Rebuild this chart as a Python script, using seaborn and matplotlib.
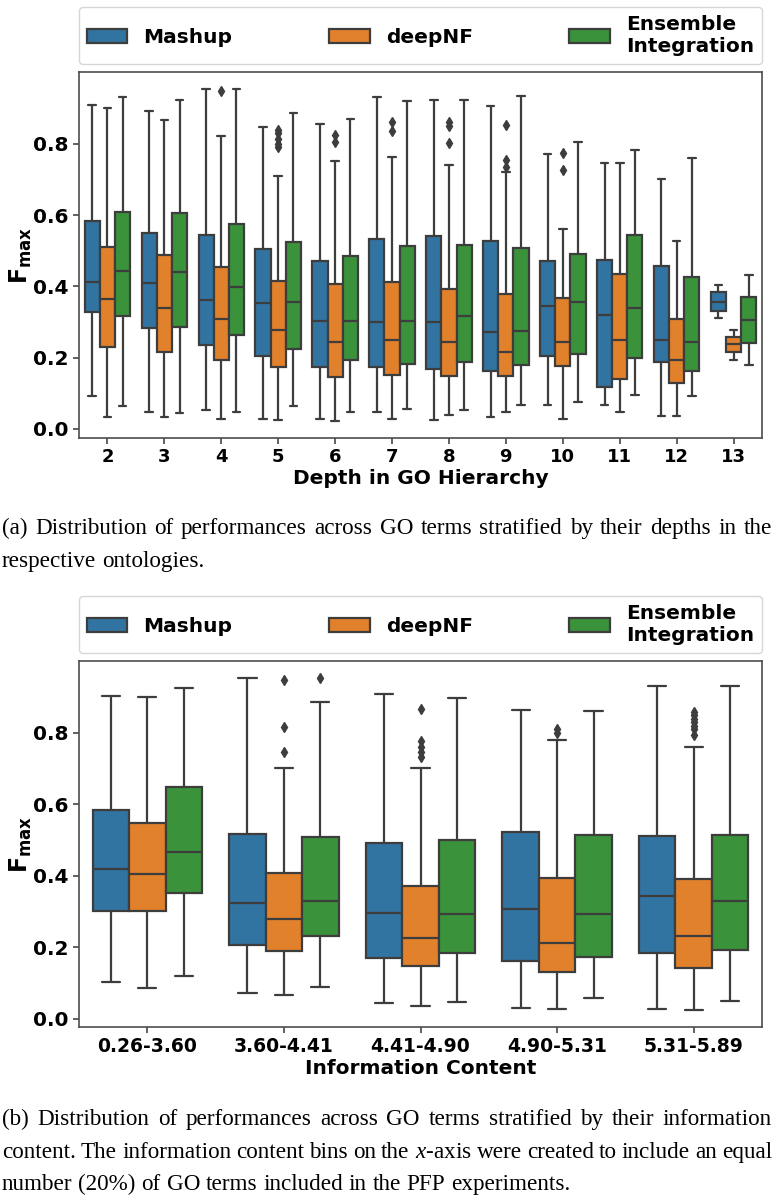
import matplotlib
matplotlib.use("Agg")
import numpy as np
import pandas as pd
import matplotlib.pyplot as plt
import seaborn as sns

# Box summaries: [low whisker, Q1, median, Q3, high whisker]
methods = ["Mashup", "deepNF", "Ensemble\nIntegration"]
palette = ["#1f77b4", "#ff7f0e", "#2ca02c"]

depth_levels = ["2", "3", "4", "5", "6", "7", "8", "9", "10", "11", "12", "13"]
mashup_depth = [
    [0.093, 0.328, 0.412, 0.583, 0.908],
    [0.047, 0.283, 0.409, 0.549, 0.892],
    [0.054, 0.234, 0.362, 0.544, 0.955],
    [0.028, 0.205, 0.353, 0.504, 0.846],
    [0.029, 0.174, 0.303, 0.470, 0.855],
    [0.048, 0.174, 0.301, 0.533, 0.932],
    [0.024, 0.168, 0.300, 0.540, 0.922],
    [0.034, 0.161, 0.273, 0.528, 0.906],
    [0.066, 0.205, 0.345, 0.470, 0.771],
    [0.066, 0.118, 0.320, 0.474, 0.747],
    [0.037, 0.187, 0.250, 0.457, 0.700],
    [0.311, 0.332, 0.357, 0.383, 0.404],
]
deepnf_depth = [
    [0.034, 0.231, 0.364, 0.511, 0.901],
    [0.033, 0.215, 0.339, 0.488, 0.868],
    [0.029, 0.192, 0.309, 0.455, 0.822],
    [0.026, 0.173, 0.278, 0.416, 0.709],
    [0.021, 0.146, 0.245, 0.406, 0.752],
    [0.029, 0.150, 0.248, 0.413, 0.764],
    [0.038, 0.147, 0.243, 0.393, 0.742],
    [0.047, 0.147, 0.217, 0.379, 0.722],
    [0.029, 0.177, 0.245, 0.367, 0.560],
    [0.048, 0.140, 0.248, 0.434, 0.747],
    [0.035, 0.129, 0.194, 0.308, 0.527],
    [0.194, 0.216, 0.238, 0.257, 0.278],
]
ei_depth = [
    [0.063, 0.317, 0.444, 0.608, 0.932],
    [0.045, 0.287, 0.441, 0.607, 0.924],
    [0.048, 0.264, 0.397, 0.574, 0.955],
    [0.063, 0.225, 0.356, 0.524, 0.887],
    [0.048, 0.192, 0.304, 0.486, 0.869],
    [0.056, 0.183, 0.304, 0.514, 0.920],
    [0.054, 0.187, 0.318, 0.516, 0.922],
    [0.066, 0.178, 0.276, 0.509, 0.934],
    [0.075, 0.210, 0.355, 0.491, 0.804],
    [0.094, 0.199, 0.339, 0.544, 0.782],
    [0.093, 0.163, 0.245, 0.427, 0.761],
    [0.178, 0.241, 0.305, 0.369, 0.432],
]
deepnf_depth_fliers = {
    "4": [0.948],
    "5": [0.790, 0.800, 0.815, 0.830, 0.840],
    "6": [0.805, 0.826],
    "7": [0.836, 0.862],
    "8": [0.803, 0.850, 0.862],
    "9": [0.735, 0.756, 0.854],
    "10": [0.728, 0.775],
}

ic_levels = ["0.26-3.60", "3.60-4.41", "4.41-4.90", "4.90-5.31", "5.31-5.89"]
mashup_ic = [
    [0.103, 0.300, 0.420, 0.583, 0.903],
    [0.072, 0.207, 0.324, 0.517, 0.955],
    [0.044, 0.170, 0.297, 0.493, 0.908],
    [0.030, 0.162, 0.308, 0.524, 0.864],
    [0.027, 0.185, 0.344, 0.512, 0.932],
]
deepnf_ic = [
    [0.086, 0.300, 0.405, 0.549, 0.902],
    [0.065, 0.188, 0.279, 0.408, 0.703],
    [0.034, 0.146, 0.226, 0.372, 0.703],
    [0.028, 0.130, 0.213, 0.395, 0.780],
    [0.023, 0.142, 0.230, 0.392, 0.762],
]
ei_ic = [
    [0.120, 0.353, 0.466, 0.650, 0.925],
    [0.089, 0.230, 0.328, 0.508, 0.886],
    [0.046, 0.185, 0.293, 0.499, 0.897],
    [0.058, 0.173, 0.293, 0.515, 0.862],
    [0.050, 0.193, 0.330, 0.515, 0.932],
]
deepnf_ic_fliers = {
    "3.60-4.41": [0.746, 0.816, 0.948],
    "4.41-4.90": [0.734, 0.748, 0.762, 0.778, 0.867],
    "4.90-5.31": [0.800, 0.810],
    "5.31-5.89": [0.795, 0.810, 0.820, 0.830, 0.840, 0.850, 0.860],
}
ei_ic_fliers = {"3.60-4.41": [0.955]}

yticks = [0.0, 0.2, 0.4, 0.6, 0.8]
ytick_labels = ["0.0", "0.2", "0.4", "0.6", "0.8"]

caption_a = [
    "(a) Distribution of performances across GO terms stratified by their depths in the",
    "respective ontologies.",
]
caption_b = [
    "(b) Distribution of performances across GO terms stratified by their information",
    "content. The information content bins on the $x$-axis were created to include an equal",
    "number (20%) of GO terms included in the PFP experiments.",
]


def sample_from_summary(stats, fliers):
    # tiny sample whose quartiles / whiskers / fliers equal the summary
    low, q1, med, q3, high = stats
    fliers = sorted(fliers)
    m = len(fliers) + 1
    return [low] * m + [q1] * m + [med] * m + [q3] + [high] * (m - len(fliers)) + fliers


def build_frame(levels, summaries, flier_maps):
    rows = []
    for method, summ, fl in zip(methods, summaries, flier_maps):
        for lvl, st in zip(levels, summ):
            for v in sample_from_summary(st, fl.get(lvl, [])):
                rows.append((lvl, method, v))
    return pd.DataFrame(rows, columns=["level", "method", "fmax"])


df_depth = build_frame(depth_levels, [mashup_depth, deepnf_depth, ei_depth],
                       [{}, deepnf_depth_fliers, {}])
df_ic = build_frame(ic_levels, [mashup_ic, deepnf_ic, ei_ic],
                    [{}, deepnf_ic_fliers, ei_ic_fliers])

sns.set_theme(style="ticks")
plt.rcParams['font.family'] = ['DejaVu Sans']
plt.rcParams['text.color'] = 'black'
plt.rcParams['axes.labelcolor'] = 'black'
plt.rcParams['axes.edgecolor'] = '0.3'
plt.rcParams['axes.linewidth'] = 1.2
plt.rcParams['mathtext.fontset'] = 'custom'
plt.rcParams['mathtext.rm'] = 'Liberation Serif'
plt.rcParams['mathtext.it'] = 'Liberation Serif:italic'

W, H = 774, 1200
fig = plt.figure(figsize=(W / 100, H / 100), dpi=100)

line_col = "#3d3d3d"


def panel(top_px, bottom_px, data, order, xlabel, xtick_fs):
    ax = fig.add_axes([79 / W, 1 - bottom_px / H, 683 / W, (bottom_px - top_px) / H])
    sns.boxplot(data=data, x="level", y="fmax", hue="method", order=order,
                hue_order=methods, palette=palette, linecolor=line_col,
                linewidth=1.6, width=0.8, gap=0, ax=ax,
                flierprops=dict(marker="d", markersize=5, markerfacecolor=line_col,
                                markeredgecolor=line_col))
    handles, labels = ax.get_legend_handles_labels()
    ax.legend(handles, labels, loc="lower left", ncol=3, mode="expand",
              bbox_to_anchor=(0, 1 + 8 / (bottom_px - top_px), 1, 0.1),
              borderaxespad=0, prop=dict(size=14.5, weight="bold"),
              handlelength=2.0, handleheight=0.7, labelspacing=0.3,
              fancybox=True, framealpha=0.8)
    ax.set_xlabel(xlabel, fontsize=14.5, fontweight="bold", labelpad=2)
    ax.set_ylabel(r"$\mathbf{F_{max}}$", fontsize=17, labelpad=-1,
                  math_fontfamily="dejavusans")
    ax.set_xticks(range(len(order)), order, fontsize=xtick_fs, fontweight="bold")
    ax.set_yticks(yticks, ytick_labels, fontsize=14.5, fontweight="bold")
    ax.tick_params(axis="both", length=4, color="0.3", labelcolor="black")
    return ax


panel(72, 438, df_depth, depth_levels, "Depth in GO Hierarchy", 13)
panel(661, 1027, df_ic, ic_levels, "Information Content", 13.5)

renderer = fig.canvas.get_renderer()


def caption_line(text, baseline_px, justify, fs=16.7):
    words = text.split(" ")
    objs = [fig.text(0, 1 - baseline_px / H, w, fontsize=fs, family="Liberation Serif",
                     weight="normal", math_fontfamily="custom", va="baseline", ha="left")
            for w in words]
    widths = [o.get_window_extent(renderer).width for o in objs]
    left, right = 2, 772
    if justify:
        gap = (right - left - sum(widths)) / (len(words) - 1)
    else:
        gap = fs * 0.25 * 100 / 72
    x = left
    for o, w in zip(objs, widths):
        o.set_x(x / W)
        x += w + gap


caption_line(caption_a[0], 534, True)
caption_line(caption_a[1], 567, False)
caption_line(caption_b[0], 1125, True)
caption_line(caption_b[1], 1158, True)
caption_line(caption_b[2], 1190, False)

fig.savefig("out.png", dpi=100)
